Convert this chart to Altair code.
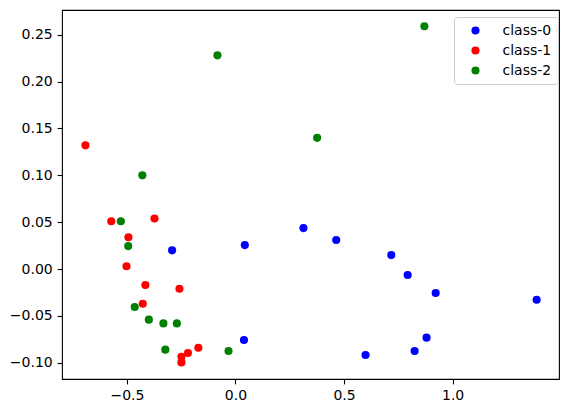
import altair as alt
import pandas as pd

classes = ["class-0", "class-1", "class-2"]
colors = ["#0000ff", "#ff0000", "#008000"]

x0 = [-0.292, 0.043, 0.039, 0.313, 0.464, 0.7175, 0.793, 0.922, 1.387, 0.880, 0.825, 0.599]
y0 = [0.020, 0.0256, -0.0757, 0.0437, 0.031, 0.0149, -0.0064, -0.0256, -0.0327, -0.0732, -0.0874, -0.0917]

x1 = [-0.691, -0.572, -0.373, -0.493, -0.502, -0.415, -0.258, -0.427, -0.171, -0.219, -0.249, -0.249]
y1 = [0.132, 0.051, 0.054, 0.034, 0.003, -0.017, -0.021, -0.037, -0.084, -0.0896, -0.0935, -0.0996]

x2 = [-0.429, -0.083, 0.870, 0.376, -0.528, -0.494, -0.464, -0.399, -0.332, -0.270, -0.323, -0.032]
y2 = [0.100, 0.228, 0.259, 0.140, 0.051, 0.0245, -0.0405, -0.054, -0.058, -0.058, -0.086, -0.0874]

x_ticks = [-0.5, 0.0, 0.5, 1.0]
y_ticks = [-0.10, -0.05, 0.00, 0.05, 0.10, 0.15, 0.20, 0.25]

rows = []
for cls, xs, ys in zip(classes, [x0, x1, x2], [y0, y1, y2]):
    for a, b in zip(xs, ys):
        rows.append({"x": a, "y": b, "cls": cls})
df = pd.DataFrame(rows)

font = "DejaVu Sans"

chart = alt.Chart(df).mark_circle(size=66, opacity=1).encode(
    x=alt.X("x:Q", scale=alt.Scale(domain=[-0.799, 1.49], nice=False, zero=False),
            axis=alt.Axis(values=x_ticks, format=".1f", title=None)),
    y=alt.Y("y:Q", scale=alt.Scale(domain=[-0.1173, 0.2764], nice=False, zero=False),
            axis=alt.Axis(values=y_ticks, format=".2f", title=None)),
    color=alt.Color("cls:N", scale=alt.Scale(domain=classes, range=colors),
                    legend=alt.Legend(title=None, orient="none", legendX=392, legendY=7,
                                      padding=6.5, symbolOffset=8, labelOffset=20,
                                      rowPadding=6, symbolType="circle", symbolSize=66,
                                      symbolStrokeWidth=0, labelFontSize=14, labelFont=font,
                                      labelColor="black", strokeColor="#cccccc",
                                      fillColor="white", cornerRadius=3)),
    order=alt.Order("cls:N"),
).properties(
    width=497, height=369,
    autosize=alt.AutoSizeParams(type="none"),
    padding={"left": 54, "top": 2, "right": 1, "bottom": 26},
).configure_view(
    stroke="black", strokeWidth=1.1
).configure_axis(
    grid=False, domain=False, tickColor="black", tickSize=4.9, tickWidth=1.1,
    labelPadding=4.9, labelFontSize=14, labelFont=font, labelColor="black"
)

chart.save("out.html", embed_options={"renderer": "svg", "actions": False})
